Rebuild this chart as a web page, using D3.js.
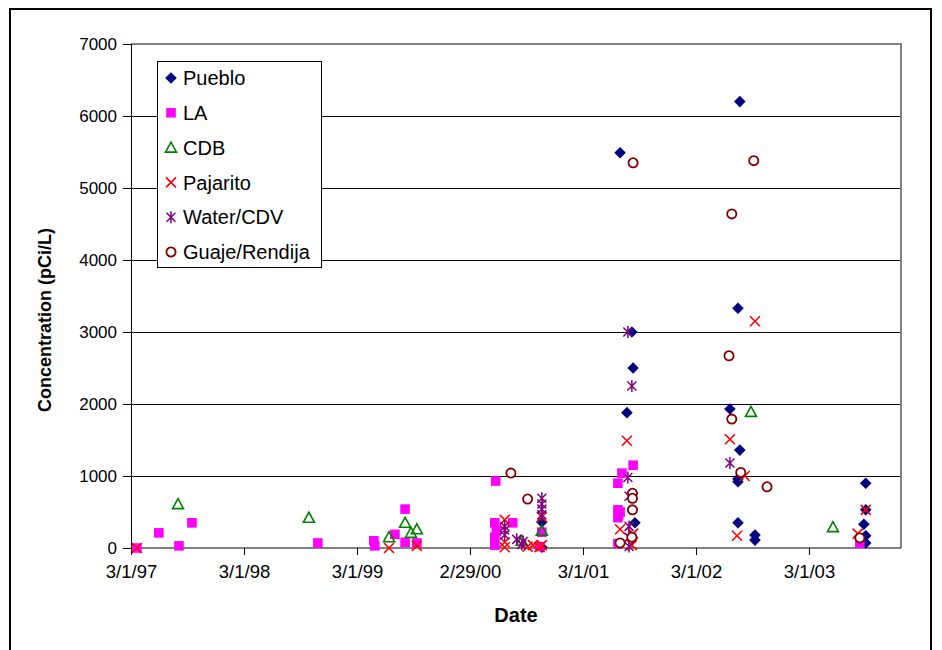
<!DOCTYPE html>
<html>
<head>
<meta charset="utf-8">
<script src="https://cdn.jsdelivr.net/npm/d3@7"></script>
<style>
  html, body { margin: 0; padding: 0; background: #fff; }
  svg { display: block; font-family: "Liberation Sans", Arial, sans-serif; }
</style>
</head>
<body>
<svg id="chart" width="942" height="650"></svg>
<script>
// ---------------- DATA ----------------
const seriesNames = ["Pueblo", "LA", "CDB", "Pajarito", "Water/CDV", "Guaje/Rendija"];

const pueblo = [
  ["2000-10-19", 360], ["2000-10-19", 10],
  ["2001-06-29", 5490], ["2001-08-06", 3000], ["2001-08-10", 2500], ["2001-07-21", 1880], ["2001-08-16", 350],
  ["2002-07-21", 6200], ["2002-07-15", 3330], ["2002-06-19", 1930], ["2002-07-21", 1360],
  ["2002-07-15", 960], ["2002-07-15", 920], ["2002-07-15", 350], ["2002-09-08", 180], ["2002-09-08", 110],
  ["2003-09-01", 900], ["2003-09-01", 530], ["2003-08-26", 330], ["2003-09-01", 170], ["2003-09-01", 70]
];
const la = [
  ["1997-03-20", 0], ["1997-05-30", 210], ["1997-08-03", 30], ["1997-09-14", 350],
  ["1998-10-26", 70],
  ["1999-04-25", 100], ["1999-04-28", 30], ["1999-07-02", 190], ["1999-08-04", 540], ["1999-08-04", 80], ["1999-09-11", 70],
  ["2000-05-23", 930], ["2000-05-20", 350], ["2000-07-17", 350], ["2000-05-20", 150], ["2000-05-20", 40],
  ["2000-05-25", 230], ["2000-10-19", 220], ["2000-10-12", 20],
  ["2001-08-10", 1150], ["2001-07-05", 1040], ["2001-06-22", 900], ["2001-06-24", 460], ["2001-06-22", 530],
  ["2001-06-22", 420], ["2001-06-29", 500], ["2001-06-22", 60],
  ["2003-08-13", 70]
];
const cdb = [
  ["1997-07-31", 610], ["1998-09-27", 420], ["1999-06-13", 150], ["1999-08-04", 350], ["1999-08-23", 210],
  ["1999-09-11", 260], ["2000-08-15", 100], ["2000-10-19", 240], ["2002-08-26", 1890], ["2003-05-18", 290]
];
const pajarito = [
  ["1997-03-20", 0], ["1999-06-13", 0], ["1999-09-11", 30],
  ["2000-06-21", 390], ["2000-06-21", 80], ["2000-06-21", 10], ["2000-09-03", 20], ["2000-09-20", 40],
  ["2000-10-19", 40], ["2000-10-19", 430], ["2000-10-12", 10],
  ["2001-07-21", 1490], ["2001-06-29", 260], ["2001-08-06", 40], ["2001-08-10", 200],
  ["2002-09-08", 3150], ["2002-06-19", 1510], ["2002-08-06", 1000], ["2002-07-12", 170],
  ["2003-09-01", 530], ["2003-08-06", 200]
];
const water = [
  ["2000-06-21", 300], ["2000-06-21", 250], ["2000-06-21", 180], ["2000-07-30", 120], ["2000-08-15", 50], ["2000-08-20", 90],
  ["2000-10-19", 690], ["2000-10-19", 610], ["2000-10-19", 540], ["2000-10-19", 460],
  ["2001-07-24", 3000], ["2001-08-06", 2250], ["2001-07-24", 980], ["2001-07-28", 720],
  ["2001-07-28", 300], ["2001-07-28", 150], ["2001-07-28", 20],
  ["2002-06-19", 1180]
];
const guaje = [
  ["2000-07-11", 1040], ["2000-09-03", 680],
  ["2001-08-10", 5350], ["2001-08-08", 760], ["2001-08-08", 690], ["2001-08-08", 530], ["2001-08-06", 150], ["2001-06-29", 70],
  ["2002-09-04", 5380], ["2002-06-25", 4640], ["2002-06-16", 2670], ["2002-06-25", 1790], ["2002-07-24", 1050], ["2002-10-17", 850],
  ["2003-08-13", 140]
];

const xTickLabels = ["3/1/97", "3/1/98", "3/1/99", "2/29/00", "3/1/01", "3/1/02", "3/1/03"];
const yTicks = [0, 1000, 2000, 3000, 4000, 5000, 6000, 7000];
const xStart = "1997-03-01";
const xSpanDays = 2489;     // axis extent in days
const tickStepDays = 365.25;

// ---------------- CHART ----------------
const svg = d3.select("#chart");
const parse = s => { const [y, m, d] = s.split("-").map(Number); return new Date(y, m - 1, d); };
const DAY = 864e5;
const start = parse(xStart);
const end = new Date(start.getTime() + xSpanDays * DAY);

const plot = { left: 131, right: 901, top: 44, bottom: 548 };
const x = d3.scaleTime().domain([start, end]).range([plot.left, plot.right]);
const y = d3.scaleLinear().domain([0, 7000]).range([plot.bottom, plot.top]);

// outer frame
svg.append("rect").attr("x", 10).attr("y", 9).attr("width", 921).attr("height", 660)
  .attr("fill", "none").attr("stroke", "#000").attr("stroke-width", 2);

// gridlines
svg.append("g").selectAll("line").data(yTicks.filter(v => v > 0 && v < 7000)).join("line")
  .attr("x1", plot.left).attr("x2", plot.right)
  .attr("y1", d => y(d)).attr("y2", d => y(d))
  .attr("stroke", "#000").attr("stroke-width", 1).attr("shape-rendering", "crispEdges");

// plot border top/right (grey)
svg.append("path")
  .attr("d", `M${plot.left},${y(7000)}H${plot.right}V${plot.bottom}`)
  .attr("fill", "none").attr("stroke", "#808080").attr("stroke-width", 1.5).attr("shape-rendering", "crispEdges");

// y axis
const yAxis = d3.axisLeft(y).tickValues(yTicks).tickSize(8).tickPadding(6).tickFormat(d3.format("d"));
const gy = svg.append("g").attr("transform", `translate(${plot.left},0)`).call(yAxis);
gy.select(".domain").attr("stroke", "#000");
gy.selectAll("line").attr("stroke", "#000");
gy.selectAll("text").attr("font-size", 17).attr("fill", "#000").attr("font-family", "Liberation Sans, Arial, sans-serif");

// x axis
const xTickDates = xTickLabels.map((_, i) => new Date(start.getTime() + i * tickStepDays * DAY));
const xAxis = d3.axisBottom(x).tickValues(xTickDates).tickSize(7).tickPadding(10)
  .tickFormat((d, i) => xTickLabels[i]);
const gx = svg.append("g").attr("transform", `translate(0,${plot.bottom})`).call(xAxis);
gx.select(".domain").attr("stroke", "#000").attr("d", `M${plot.left},0H${plot.right}`);
gx.selectAll("line").attr("stroke", "#000");
gx.selectAll("text").attr("font-size", 18.5).attr("fill", "#000").attr("font-family", "Liberation Sans, Arial, sans-serif");

// axis titles
svg.append("text").attr("x", (plot.left + plot.right) / 2).attr("y", 622)
  .attr("text-anchor", "middle").attr("font-weight", "bold").attr("font-size", 20).text("Date");
svg.append("text").attr("transform", "translate(51,320) rotate(-90)")
  .attr("text-anchor", "middle").attr("font-weight", "bold").attr("font-size", 18).text("Concentration (pCi/L)");

// markers
const markerFns = {
  "Pueblo": g => g.append("path").attr("d", "M0,-5.8L5.8,0L0,5.8L-5.8,0Z").attr("fill", "#000080"),
  "LA": g => g.append("rect").attr("x", -4.8).attr("y", -4.8).attr("width", 9.6).attr("height", 9.6).attr("fill", "#FF00FF"),
  "CDB": g => g.append("path").attr("d", "M0,-5.5L5.5,4.5L-5.5,4.5Z").attr("fill", "none").attr("stroke", "#008000").attr("stroke-width", 1.6),
  "Pajarito": g => g.append("path").attr("d", "M-5,-5L5,5M-5,5L5,-5").attr("stroke", "#FF0000").attr("stroke-width", 1.6),
  "Water/CDV": g => g.append("path").attr("d", "M-4.5,-4.5L4.5,4.5M-4.5,4.5L4.5,-4.5M0,-6L0,6").attr("stroke", "#800080").attr("stroke-width", 1.5),
  "Guaje/Rendija": g => g.append("circle").attr("r", 4.6).attr("fill", "#fff").attr("stroke", "#800000").attr("stroke-width", 1.8)
};
const seriesData = [pueblo, la, cdb, pajarito, water, guaje];

seriesData.forEach((data, si) => {
  const name = seriesNames[si];
  const g = svg.append("g").attr("class", "series");
  data.forEach(([d, v]) => {
    const m = g.append("g").attr("transform", `translate(${x(parse(d))},${y(v)})`);
    markerFns[name](m);
  });
});

// legend
const legend = svg.append("g");
legend.append("rect").attr("x", 157).attr("y", 61).attr("width", 164).attr("height", 206)
  .attr("fill", "#fff").attr("stroke", "#000").attr("stroke-width", 1).attr("shape-rendering", "crispEdges");
seriesNames.forEach((name, i) => {
  const cy = 78 + i * 34.8;
  const m = legend.append("g").attr("transform", `translate(171,${cy})`);
  markerFns[name](m);
  legend.append("text").attr("x", 183).attr("y", cy).attr("dy", "0.36em")
    .attr("font-size", 20).attr("fill", "#000").text(name);
});
</script>
</body>
</html>
